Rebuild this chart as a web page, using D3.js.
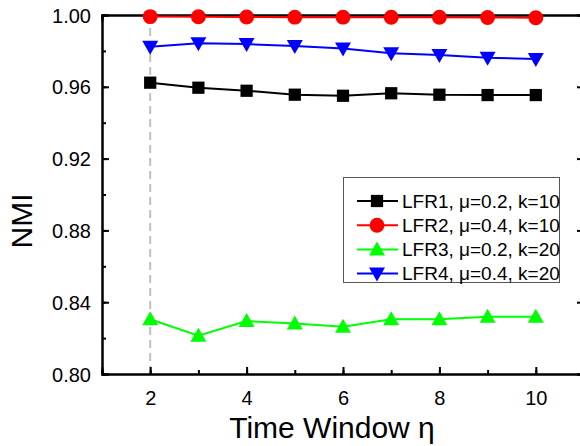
<!DOCTYPE html>
<html>
<head>
<meta charset="utf-8">
<script src="https://cdn.jsdelivr.net/npm/d3@7"></script>
<style>
  body { margin: 0; background: #fff; }
  text { font-family: "Liberation Sans", Arial, sans-serif; }
</style>
</head>
<body>
<div id="chart"></div>
<script>
      // data
      var windows = [2, 3, 4, 5, 6, 7, 8, 9, 10];
      var lfr1 = [0.9623, 0.9595, 0.9578, 0.9556, 0.9550, 0.9564, 0.9556, 0.9554, 0.9554];
      var lfr2 = [0.9991, 0.9990, 0.9989, 0.9988, 0.9988, 0.9987, 0.9987, 0.9986, 0.9985];
      var lfr3 = [0.8305, 0.8213, 0.8295, 0.8282, 0.8263, 0.8305, 0.8305, 0.8319, 0.8319];
      var lfr4 = [0.9823, 0.9842, 0.9838, 0.9827, 0.9814, 0.9787, 0.9777, 0.9762, 0.9755];
      var names = ['LFR1, \u03bc=0.2, k=10', 'LFR2, \u03bc=0.4, k=10', 'LFR3, \u03bc=0.2, k=20', 'LFR4, \u03bc=0.4, k=20'];
      var yTicks = [0.80, 0.84, 0.88, 0.92, 0.96, 1.00];
      var xTicks = [2, 4, 6, 8, 10];

      var width = 580;
      var height = 446;
      var padLeft = 102, padRight = 584, padTop = 15, padBottom = 374;

      var series = [
        {name: names[0], values: lfr1, color: '#000000', symbol: d3.symbolSquare, size: 150},
        {name: names[1], values: lfr2, color: '#ff0000', symbol: d3.symbolCircle, size: 175},
        {name: names[2], values: lfr3, color: '#00ff00', symbol: 'up', size: 0},
        {name: names[3], values: lfr4, color: '#0000ff', symbol: 'down', size: 0}
      ];

      var svg = d3.select('#chart').append('svg')
          .attr('width', width)
          .attr('height', height);

      var xScale = d3.scaleLinear().domain([1, 11]).range([padLeft, padRight]);
      var yScale = d3.scaleLinear().domain([0.80, 1.00]).range([padBottom, padTop]);

      // triangle path, pointing up or down
      function tri(dir) {
        var w = 8, h = 7;
        return dir === 'up'
          ? 'M0,' + (-h - 1) + 'L' + w + ',' + (h - 1) + 'L' + (-w) + ',' + (h - 1) + 'Z'
          : 'M0,' + (h + 1) + 'L' + w + ',' + (-h + 1) + 'L' + (-w) + ',' + (-h + 1) + 'Z';
      }
      function markerPath(s) {
        if (s.symbol === 'up' || s.symbol === 'down') return tri(s.symbol);
        return d3.symbol().type(s.symbol).size(s.size)();
      }

      // gray dashed reference line at window 2
      svg.append('line')
          .attr('x1', xScale(2)).attr('x2', xScale(2))
          .attr('y1', padTop).attr('y2', padBottom)
          .attr('stroke', '#c0c0c0')
          .attr('stroke-width', 2)
          .attr('stroke-dasharray', '8,5');

      // axes with inward ticks (minor + major)
      var minorY = d3.range(0, 11).map(function (i) { return 0.80 + i * 0.02; });
      var minorX = d3.range(1, 12);

      function axisPair(gen, scale, ticks, minor, transform) {
        var g = svg.append('g').attr('transform', transform);
        g.call(gen(scale).tickValues(minor).tickSize(4).tickFormat(''));
        var g2 = svg.append('g').attr('transform', transform);
        g2.call(gen(scale).tickValues(ticks).tickSize(7).tickFormat(''));
        [g, g2].forEach(function (a) {
          a.select('.domain').attr('stroke', '#000').attr('stroke-width', 2);
          a.selectAll('.tick line').attr('stroke', '#000').attr('stroke-width', 2);
        });
        return g2;
      }

      var fmtY = d3.format('.2f');
      var gl = axisPair(d3.axisRight, yScale, yTicks, minorY, 'translate(' + padLeft + ',0)');
      gl.selectAll('.tick').append('text')
          .attr('x', -11).attr('dy', '0.35em')
          .attr('text-anchor', 'end')
          .style('font-size', '20px')
          .attr('fill', '#000')
          .text(function (d) { return fmtY(d); });
      axisPair(d3.axisLeft, yScale, yTicks, minorY, 'translate(' + padRight + ',0)');
      var gb = axisPair(d3.axisTop, xScale, xTicks, minorX, 'translate(0,' + padBottom + ')');
      gb.selectAll('.tick').append('text')
          .attr('y', 24).attr('dy', '0.35em')
          .attr('text-anchor', 'middle')
          .style('font-size', '20px')
          .attr('fill', '#000')
          .text(function (d) { return d; });
      axisPair(d3.axisBottom, xScale, xTicks, minorX, 'translate(0,' + padTop + ')');

      // axis titles
      svg.append('text')
          .attr('x', 332).attr('y', 438)
          .attr('text-anchor', 'middle')
          .style('font-size', '30px')
          .text('Time Window \u03b7');

      svg.append('text')
          .attr('transform', 'translate(32,221) rotate(-90)')
          .attr('text-anchor', 'middle')
          .style('font-size', '30px')
          .text('NMI');

      // series lines and markers
      var line = d3.line()
          .x(function (d, i) { return xScale(windows[i]); })
          .y(function (d) { return yScale(d); });

      var order = [2, 3, 0, 1];
      order.forEach(function (k) {
        var s = series[k];
        svg.append('path')
            .datum(s.values)
            .attr('d', line)
            .attr('fill', 'none')
            .attr('stroke', s.color)
            .attr('stroke-width', 2);
        svg.selectAll('.m' + k)
            .data(s.values)
            .enter()
            .append('path')
                .attr('class', 'm' + k)
                .attr('d', markerPath(s))
                .attr('transform', function (d, i) {
                  return 'translate(' + xScale(windows[i]) + ',' + yScale(d) + ')';
                })
                .attr('fill', s.color);
      });

      // legend
      var lg = svg.append('g');
      lg.append('rect')
          .attr('x', 343.5).attr('y', 177.5)
          .attr('width', 216).attr('height', 105)
          .attr('fill', '#fff')
          .attr('stroke', '#555')
          .attr('stroke-width', 1);
      series.forEach(function (s, i) {
        var yy = 201 + i * 24.2;
        lg.append('line')
            .attr('x1', 357).attr('x2', 398)
            .attr('y1', yy).attr('y2', yy)
            .attr('stroke', s.color)
            .attr('stroke-width', 2);
        lg.append('path')
            .attr('d', markerPath(s))
            .attr('transform', 'translate(377,' + yy + ')')
            .attr('fill', s.color);
        lg.append('text')
            .attr('x', 402).attr('y', yy)
            .attr('dy', '0.36em')
            .style('font-size', '19px')
            .text(s.name);
      });
</script>
</body>
</html>
